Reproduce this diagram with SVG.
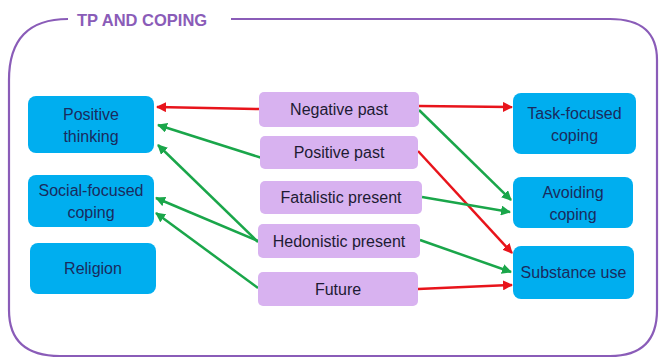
<svg xmlns="http://www.w3.org/2000/svg" width="661" height="358" viewBox="0 0 661 358">
<defs>
<style>
.frame{fill:none;stroke:#8a5cb8;stroke-width:2.2}
.title{font-family:"Liberation Sans",Arial,sans-serif;font-weight:bold;font-size:16.5px;fill:#8a5cb8}
.blue{fill:#00aeef}
.lilac{fill:#d8b2f0}
.t{font-family:"Liberation Sans",Arial,sans-serif;font-size:16px;text-anchor:middle}
.tb{fill:#1a2b5e}
.tp{fill:#1d1b33}
.r{stroke:#e8141b;stroke-width:2.5;fill:none;marker-end:url(#ar)}
.g{stroke:#1aa64a;stroke-width:2.5;fill:none;marker-end:url(#ag)}
</style>
<marker id="ar" viewBox="0 0 10 10" refX="9" refY="5" markerWidth="4" markerHeight="4" orient="auto" markerUnits="strokeWidth"><path d="M0,0 L10,5 L0,10 z" fill="#e8141b"/></marker>
<marker id="ag" viewBox="0 0 10 10" refX="9" refY="5" markerWidth="4" markerHeight="4" orient="auto" markerUnits="strokeWidth"><path d="M0,0 L10,5 L0,10 z" fill="#1aa64a"/></marker>
</defs>
<rect width="661" height="358" fill="#ffffff"/>
<g id="frame">
<path class="frame" d="M68,19 Q9,19 9,80 L9,310 Q9,356 60,356 L610,356 Q657,356 657,310 L657,60 Q657,19 610,19 L231,19"/>
<text class="title" x="77" y="26">TP AND COPING</text>
</g>
<g id="connectors">
<path class="r" d="M259,109 L157,107"/>
<path class="g" d="M262,158 L158,125"/>
<path class="g" d="M258,242 L158,145"/>
<path class="g" d="M258,241 L156,198"/>
<path class="g" d="M258,288 L156,213"/>
<path class="r" d="M419,106 L512,107"/>
<path class="g" d="M419,110 L511,200"/>
<path class="r" d="M418,151 L512,253"/>
<path class="g" d="M422,197 L510,212"/>
<path class="g" d="M420,240 L511,272"/>
<path class="r" d="M418,289 L512,285"/>
</g>
<g id="positive-thinking"><rect class="blue" x="28" y="96" width="126" height="57" rx="8"/><text class="t tb" x="91" y="120">Positive</text><text class="t tb" x="91" y="142">thinking</text></g>
<g id="social-focused-coping"><rect class="blue" x="28" y="175" width="126" height="52" rx="8"/><text class="t tb" x="91" y="196">Social-focused</text><text class="t tb" x="91" y="218">coping</text></g>
<g id="religion"><rect class="blue" x="30" y="243" width="126" height="51" rx="8"/><text class="t tb" x="93" y="274">Religion</text></g>
<g id="task-focused-coping"><rect class="blue" x="513" y="93" width="123" height="61" rx="8"/><text class="t tb" x="574.5" y="119">Task-focused</text><text class="t tb" x="574.5" y="141">coping</text></g>
<g id="avoiding-coping"><rect class="blue" x="513" y="177" width="120" height="51" rx="8"/><text class="t tb" x="573" y="198">Avoiding</text><text class="t tb" x="573" y="220">coping</text></g>
<g id="substance-use"><rect class="blue" x="513" y="246" width="121" height="53" rx="8"/><text class="t tb" x="573.5" y="278">Substance use</text></g>
<g id="negative-past"><rect class="lilac" x="259" y="92" width="160" height="35" rx="5"/><text class="t tp" x="339" y="115">Negative past</text></g>
<g id="positive-past"><rect class="lilac" x="260" y="136" width="158" height="33" rx="5"/><text class="t tp" x="339" y="158">Positive past</text></g>
<g id="fatalistic-present"><rect class="lilac" x="260" y="181" width="162" height="33" rx="5"/><text class="t tp" x="341" y="203">Fatalistic present</text></g>
<g id="hedonistic-present"><rect class="lilac" x="258" y="224" width="162" height="34" rx="5"/><text class="t tp" x="339" y="247">Hedonistic present</text></g>
<g id="future"><rect class="lilac" x="258" y="272" width="160" height="34" rx="5"/><text class="t tp" x="338" y="295">Future</text></g>
</svg>
